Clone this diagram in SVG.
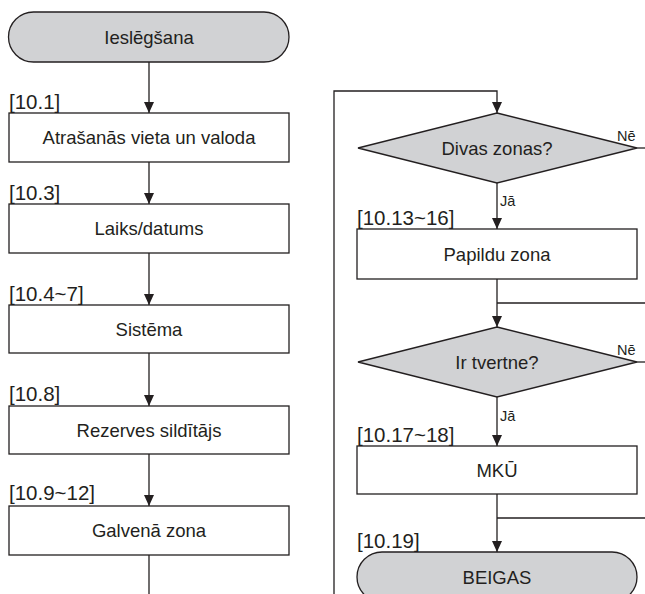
<svg xmlns="http://www.w3.org/2000/svg" width="645" height="594" viewBox="0 0 645 594">
<style>
  .shape{stroke:#231f20;stroke-width:1.3;}
  .box{fill:#ffffff;}
  .gray{fill:#d1d2d4;}
  .t{font-family:"Liberation Sans",Arial,sans-serif;font-size:18.5px;fill:#231f20;text-anchor:middle;}
  .lbl{font-family:"Liberation Sans",Arial,sans-serif;font-size:20.5px;fill:#231f20;}
  .sm{font-family:"Liberation Sans",Arial,sans-serif;font-size:14.5px;fill:#231f20;}
  .c{fill:none;stroke:#231f20;stroke-width:1.3;}
</style>
<defs>
  <marker id="ah" markerUnits="userSpaceOnUse" viewBox="0 0 11 10" markerWidth="11" markerHeight="10" refX="11" refY="5" orient="auto">
    <path d="M0,0 L11,5 L0,10 z" fill="#231f20"/>
  </marker>
</defs>
<rect width="645" height="594" fill="#ffffff"/>

<g id="connectors">
  <line class="c" x1="149" y1="62" x2="149" y2="113" marker-end="url(#ah)"/>
  <line class="c" x1="149" y1="162" x2="149" y2="204" marker-end="url(#ah)"/>
  <line class="c" x1="149" y1="253" x2="149" y2="305" marker-end="url(#ah)"/>
  <line class="c" x1="149" y1="353" x2="149" y2="406" marker-end="url(#ah)"/>
  <line class="c" x1="149" y1="454" x2="149" y2="506" marker-end="url(#ah)"/>
  <line class="c" x1="149" y1="555" x2="149" y2="594"/>
  <polyline class="c" points="334,594 334,91 497,91 497,113" marker-end="url(#ah)"/>
  <line class="c" x1="497" y1="183" x2="497" y2="229" marker-end="url(#ah)"/>
  <line class="c" x1="637" y1="148" x2="645" y2="148"/>
  <line class="c" x1="497" y1="279" x2="497" y2="327" marker-end="url(#ah)"/>
  <line class="c" x1="497" y1="303" x2="645" y2="303"/>
  <line class="c" x1="497" y1="397" x2="497" y2="446" marker-end="url(#ah)"/>
  <line class="c" x1="637" y1="362" x2="645" y2="362"/>
  <line class="c" x1="497" y1="494" x2="497" y2="552" marker-end="url(#ah)"/>
  <line class="c" x1="497" y1="518" x2="645" y2="518"/>
  <text class="sm" x="617" y="141">Nē</text>
  <text class="sm" x="500" y="206">Jā</text>
  <text class="sm" x="617" y="355">Nē</text>
  <text class="sm" x="500" y="421">Jā</text>
</g>

<g id="start">
  <rect class="shape gray" x="8.5" y="12" width="280.5" height="50" rx="25" ry="25"/>
  <text class="t" x="149" y="43.5">Ieslēgšana</text>
</g>

<g id="n10_1">
  <text class="lbl" x="9" y="109">[10.1]</text>
  <rect class="shape box" x="9" y="113" width="280" height="49"/>
  <text class="t" x="149" y="144">Atrašanās vieta un valoda</text>
</g>

<g id="n10_3">
  <text class="lbl" x="9" y="200">[10.3]</text>
  <rect class="shape box" x="9" y="204" width="280" height="49"/>
  <text class="t" x="149" y="235">Laiks/datums</text>
</g>

<g id="n10_4">
  <text class="lbl" x="9" y="301">[10.4~7]</text>
  <rect class="shape box" x="9" y="305" width="280" height="48"/>
  <text class="t" x="149" y="335.5">Sistēma</text>
</g>

<g id="n10_8">
  <text class="lbl" x="9" y="401">[10.8]</text>
  <rect class="shape box" x="9" y="406" width="280" height="48"/>
  <text class="t" x="149" y="436.5">Rezerves sildītājs</text>
</g>

<g id="n10_9">
  <text class="lbl" x="9" y="500">[10.9~12]</text>
  <rect class="shape box" x="9" y="506" width="280" height="49"/>
  <text class="t" x="149" y="537">Galvenā zona</text>
</g>

<g id="d_two_zones">
  <polygon class="shape gray" points="497,113 637,148 497,183 358,148"/>
  <text class="t" x="497" y="154.5">Divas zonas?</text>
</g>

<g id="n10_13">
  <text class="lbl" x="357" y="225">[10.13~16]</text>
  <rect class="shape box" x="357" y="229" width="280" height="50"/>
  <text class="t" x="497" y="260.5">Papildu zona</text>
</g>

<g id="d_tank">
  <polygon class="shape gray" points="497,327 637,362 497,397 358,362"/>
  <text class="t" x="497" y="368.5">Ir tvertne?</text>
</g>

<g id="n10_17">
  <text class="lbl" x="357" y="442">[10.17~18]</text>
  <rect class="shape box" x="357" y="446" width="280" height="48"/>
  <text class="t" x="497" y="476.5">MKŪ</text>
</g>

<g id="end">
  <text class="lbl" x="357" y="548">[10.19]</text>
  <rect class="shape gray" x="357" y="552" width="280" height="50" rx="25" ry="25"/>
  <text class="t" x="497" y="583.5">BEIGAS</text>
</g>
</svg>
